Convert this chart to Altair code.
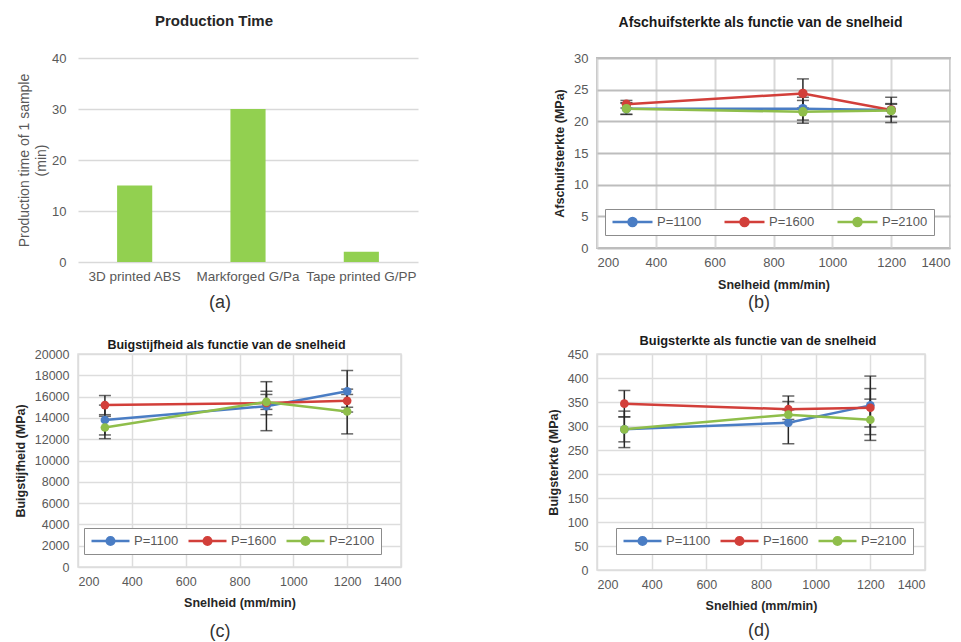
import altair as alt
import pandas as pd

FONT = "Liberation Sans"
LABEL_GRAY = "#595959"

# ---------- (a) Production time ----------
materials = ["3D printed ABS", "Markforged G/Pa", "Tape printed G/PP"]
production_time = [15, 30, 2]

# ---------- shared for (b)-(d) ----------
speeds = [300, 900, 1200]
series = ["P=1100", "P=1600", "P=2100"]
series_colors = ["#4A7DC4", "#D23F3A", "#8FBE4B"]

# (b) Afschuifsterkte (MPa)
b_1100 = [22.0, 22.0, 21.8]
b_1600 = [22.7, 24.4, 21.8]
b_2100 = [22.0, 21.5, 21.7]
b_err_1100 = [0.9, 1.8, 1.0]
b_err_1600 = [0.6, 2.3, 2.0]
b_err_2100 = [0.9, 1.8, 1.0]

# (c) Buigstijfheid (MPa)
c_1100 = [13800, 15100, 16500]
c_1600 = [15200, 15400, 15600]
c_2100 = [13100, 15500, 14600]
c_err_1100 = [1400, 2300, 1950]
c_err_1600 = [900, 1100, 600]
c_err_2100 = [1050, 700, 2100]

# (d) Buigsterkte (MPa)
d_1100 = [293, 307, 343]
d_1600 = [346.5, 335, 338]
d_2100 = [293, 323.6, 313]
d_err_1100 = [38, 44, 61]
d_err_1600 = [27.5, 27.5, 40]
d_err_2100 = [26, 10, 43]

LEGEND_PATH = "M-1,0H1M-0.2,0A0.2,0.2,0,1,1,0.2,0A0.2,0.2,0,1,1,-0.2,0Z"


def tag(text, px, py):
    return alt.Chart(pd.DataFrame({"t": [text]})).mark_text(
        font=FONT, fontSize=18, color="#333333"
    ).encode(text="t:N", x=alt.value(px), y=alt.value(py))


# ---------- panel (a) ----------
df_a = pd.DataFrame({"material": materials, "time": production_time})
bars = alt.Chart(df_a).mark_bar(color="#92D050").encode(
    x=alt.X(
        "material:N", sort=materials,
        scale=alt.Scale(paddingInner=0.69, paddingOuter=0.345),
        axis=alt.Axis(title=None, labelAngle=0, domain=False, ticks=False,
                      labelPadding=7, labelFontSize=13.5, labelColor=LABEL_GRAY,
                      labelFont=FONT),
    ),
    y=alt.Y(
        "time:Q", scale=alt.Scale(domain=[0, 40], nice=False),
        axis=alt.Axis(values=[0, 10, 20, 30, 40], domain=False, ticks=False,
                      labelOverlap=False,
                      gridColor="#D9D9D9", gridWidth=1.5, labelPadding=12,
                      labelFontSize=13, labelColor=LABEL_GRAY, labelFont=FONT,
                      title=["Production time of  1 sample", "(min)"],
                      titleFontWeight="normal", titleFontSize=14,
                      titleColor=LABEL_GRAY, titleFont=FONT, titlePadding=3,
                      titleLineHeight=17),
    ),
)
panel_a = alt.layer(bars, tag("(a)", 142, 245)).properties(
    width=340, height=204,
    view=alt.ViewBackground(stroke="transparent"),
    title=alt.TitleParams("Production Time", fontSize=15, fontWeight="bold",
                          color="#262626", font=FONT, dx=-34, offset=23,
                          anchor="middle"),
)


def line_panel(means, errs, ydom, ystep, title, title_size, title_dx, title_offset,
               ytitle, xtitle, w, h, hgrid, vgrid, border, lx, ly, sym, colpad,
               tag_text, tx, ty, msize, label_size):
    rows = []
    for s, m, e in zip(series, means, errs):
        for sp, mv, ev in zip(speeds, m, e):
            rows.append({"series": s, "speed": sp, "mean": mv,
                         "lo": mv - ev, "hi": mv + ev})
    df = pd.DataFrame(rows)
    base = alt.Chart(df)
    xaxis = alt.Axis(values=list(range(200, 1401, 200)), format="d",
                     domain=False, ticks=False, labelOverlap=False,
                     gridColor=vgrid[0], gridWidth=vgrid[1], labelPadding=8,
                     labelFontSize=label_size, labelColor=LABEL_GRAY, labelFont=FONT,
                     title=xtitle, titleFontSize=12.5, titleFont=FONT,
                     titleFontWeight="bold", titleColor="#262626", titlePadding=9)
    xscale = alt.Scale(domain=[200, 1400], nice=False)
    yvals = list(range(ydom[0], ydom[1] + 1, ystep))
    yaxis = alt.Axis(values=yvals, format="d", domain=False, ticks=False,
                     labelOverlap=False,
                     gridColor=hgrid[0], gridWidth=hgrid[1], labelPadding=9,
                     labelFontSize=label_size, labelColor=LABEL_GRAY, labelFont=FONT,
                     title=ytitle, titleFontSize=12.5, titleFont=FONT,
                     titleFontWeight="bold", titleColor="#262626", titlePadding=7)
    yscale = alt.Scale(domain=ydom, nice=False)

    def X():
        return alt.X("speed:Q", scale=xscale, axis=xaxis)

    def Y(field):
        return alt.Y(field, scale=yscale, axis=yaxis)

    legend = alt.Legend(
        orient="none", legendX=lx, legendY=ly, direction="horizontal", title=None,
        symbolType=LEGEND_PATH, symbolSize=sym, symbolStrokeWidth=2.5,
        clipHeight=14, labelFontSize=13, labelColor=LABEL_GRAY, labelFont=FONT,
        labelOffset=3, columnPadding=colpad, padding=6, strokeColor="#8C8C8C",
        fillColor="white",
    )
    cscale = alt.Scale(domain=series, range=series_colors)
    rules = base.mark_rule(color="#262626", strokeWidth=1.5).encode(
        x=X(), y=Y("lo:Q"), y2="hi:Q")
    cap_lo = base.mark_tick(orient="horizontal", size=12, thickness=1.5,
                            color="#262626").encode(x=X(), y=Y("lo:Q"))
    cap_hi = base.mark_tick(orient="horizontal", size=12, thickness=1.5,
                            color="#262626").encode(x=X(), y=Y("hi:Q"))
    lines = base.mark_line(strokeWidth=2.5).encode(
        x=X(), y=Y("mean:Q"),
        color=alt.Color("series:N", scale=cscale, legend=legend))
    points = base.mark_point(filled=True, size=msize, opacity=1).encode(
        x=X(), y=Y("mean:Q"),
        color=alt.Color("series:N", scale=cscale, legend=legend))
    return alt.layer(rules, cap_lo, cap_hi, lines, points, tag(tag_text, tx, ty)).properties(
        width=w, height=h,
        view=alt.ViewBackground(stroke=border[0], strokeWidth=border[1]),
        title=alt.TitleParams(title, fontSize=title_size, fontWeight="bold",
                              color="#1a1a1a", font=FONT, dx=title_dx,
                              offset=title_offset, anchor="middle"),
    )


panel_b = line_panel(
    [b_1100, b_1600, b_2100], [b_err_1100, b_err_1600, b_err_2100],
    [0, 30], 5, "Afschuifsterkte als functie van de snelheid", 14, -13, 22,
    "Afschuifsterkte (MPa)", "Snelheid (mm/min)", 353, 190,
    ("#BDBDBD", 2), ("#D9D9D9", 2), ("#BDBDBD", 2), 8, 151, 1600, 21,
    "(b)", 162, 245, 90, 13)

panel_c = line_panel(
    [c_1100, c_1600, c_2100], [c_err_1100, c_err_1600, c_err_2100],
    [0, 20000], 2000, "Buigstijfheid als functie van de snelheid", 12.5, -13, -3,
    "Buigstijfheid (MPa)", "Snelheid (mm/min)", 323, 213,
    ("#DDDDDD", 1.5), ("#DDDDDD", 1.5), ("#DDDDDD", 1.5), 6, 174, 1444, 8,
    "(c)", 142, 278, 75, 12.5)

panel_d = line_panel(
    [d_1100, d_1600, d_2100], [d_err_1100, d_err_1600, d_err_2100],
    [0, 450], 50, "Buigsterkte als functie van de snelheid", 12.8, -3, 0,
    "Buigsterkte (MPa)", "Snelhied (mm/min)", 328, 216,
    ("#DDDDDD", 1.5), ("#DDDDDD", 1.5), ("#DDDDDD", 1.5), 19, 174, 1444, 8,
    "(d)", 162, 277, 75, 12.5)

chart = alt.concat(
    panel_a, panel_b, panel_c, panel_d, columns=2,
    spacing={"row": 92, "column": 179}, bounds="flush", align="each",
).resolve_scale(color="independent").resolve_legend(color="independent").properties(
    padding={"left": 5, "top": 5, "right": 0, "bottom": 0}
).configure(font=FONT)

chart.save("out.html", embed_options={"renderer": "svg", "actions": False})
